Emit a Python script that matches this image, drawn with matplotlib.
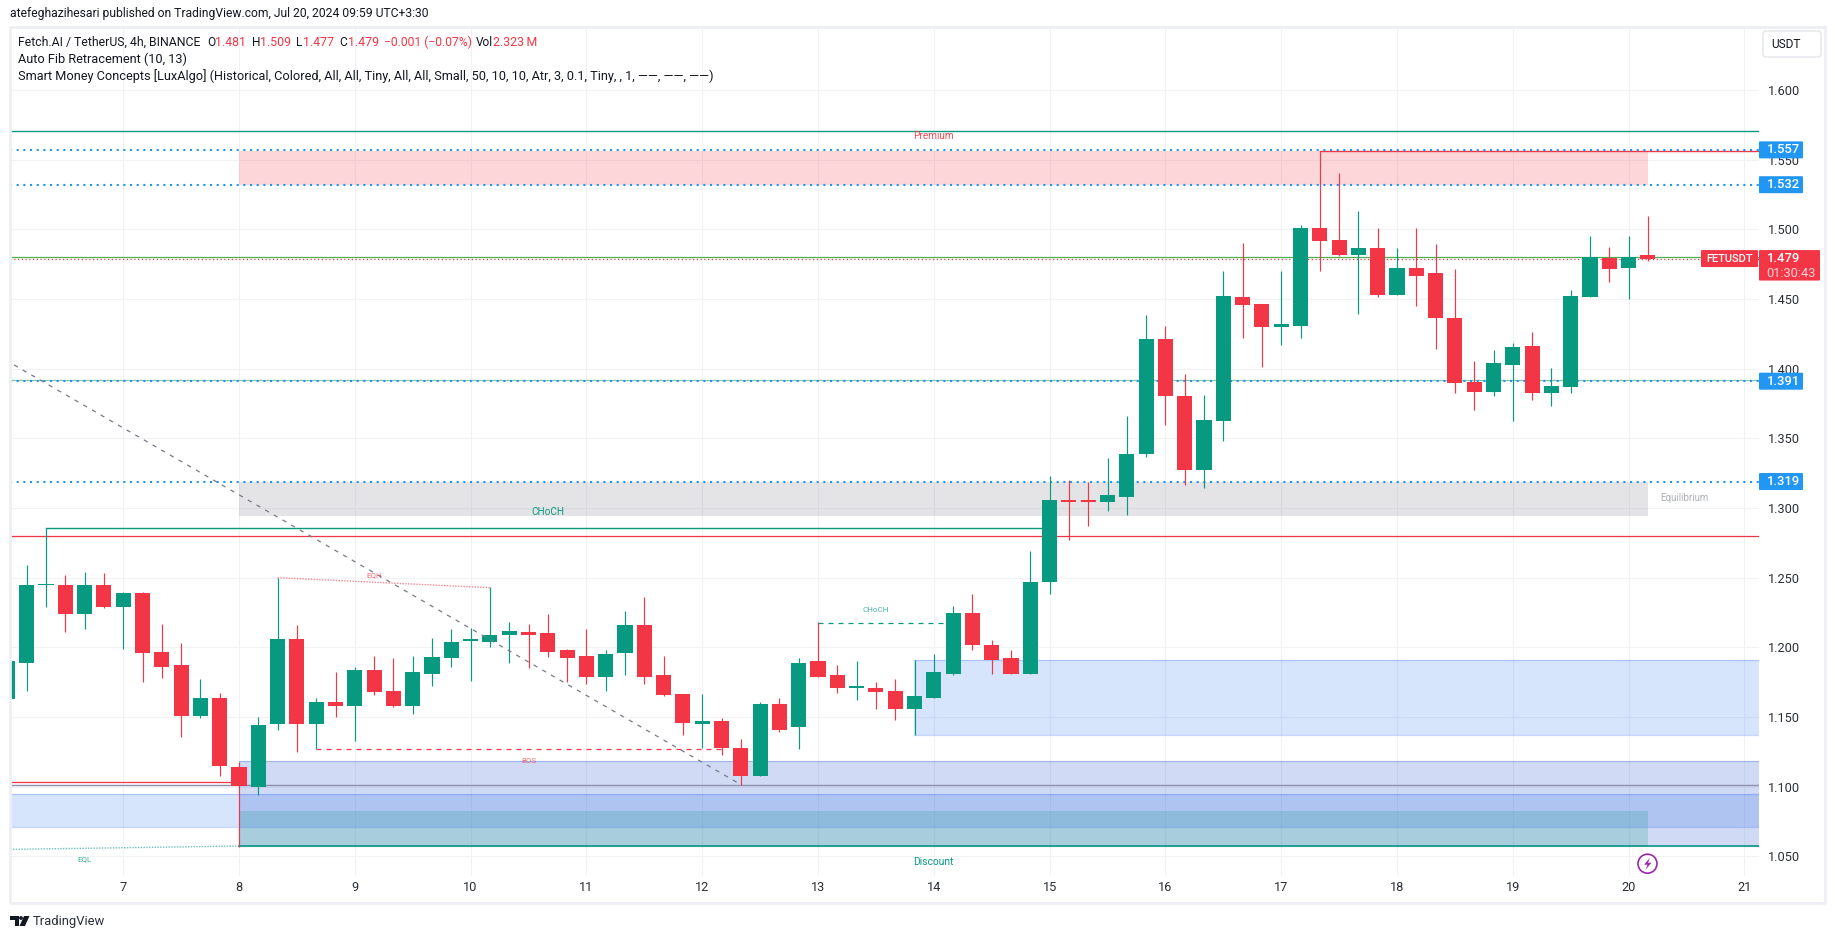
import matplotlib
matplotlib.use("Agg")
import matplotlib.pyplot as plt
from matplotlib.patches import Rectangle, FancyBboxPatch, Polygon, Circle

plt.rcParams['font.family'] = ['Roboto', 'DejaVu Sans']

# ---------- data ----------
first_day = 6.0
candles_per_day = 6
opens = [1.163,1.189,1.2445,1.245,1.224,1.245,1.229,1.239,1.197,1.187,1.1506,1.164,1.114,1.100,1.145,1.206,1.145,1.161,1.158,1.184,1.1685,1.158,1.181,1.192,1.2043,1.204,1.2087,1.211,1.210,1.198,1.194,1.179,
         1.196,1.216,1.180,1.1665,1.1452,1.147,1.128,1.108,1.159,1.143,1.190,1.180,1.1708,1.171,1.1685,1.1556,1.1635,1.181,1.225,1.202,1.192,1.181,1.2467,1.306,1.306,1.304,1.308,1.339,1.4214,1.3805,1.3274,1.3626,1.4515,1.4465,1.430,1.4307,1.501,1.4923,1.4816,1.4866,1.453,1.472,1.4687,1.4364,1.3905,1.3834,1.4027,1.4164,1.3826,1.387,1.4515,1.4794,1.472,1.4816]
highs = [1.190,1.259,1.286,1.252,1.254,1.253,1.240,1.240,1.217,1.203,1.177,1.167,1.118,1.150,1.250,1.216,1.1635,1.182,1.186,1.194,1.192,1.194,1.207,1.213,1.214,1.243,1.218,1.217,1.224,1.199,1.213,1.198,
         1.226,1.236,1.194,1.1665,1.1665,1.149,1.134,1.161,1.164,1.192,1.218,1.187,1.190,1.175,1.177,1.191,1.195,1.230,1.238,1.205,1.198,1.269,1.3227,1.320,1.319,1.336,1.366,1.4386,1.4307,1.396,1.381,1.470,1.490,1.4465,1.470,1.503,1.5564,1.5404,1.513,1.501,1.4866,1.501,1.4895,1.4716,1.4056,1.4135,1.4185,1.4264,1.4006,1.4565,1.495,1.487,1.495,1.5096]
lows = [1.163,1.169,1.229,1.211,1.213,1.228,1.199,1.175,1.178,1.1355,1.149,1.1076,1.057,1.094,1.141,1.125,1.127,1.150,1.133,1.166,1.157,1.152,1.172,1.186,1.176,1.200,1.189,1.185,1.193,1.175,1.174,1.169,
        1.180,1.1735,1.165,1.137,1.128,1.123,1.101,1.108,1.139,1.127,1.179,1.167,1.162,1.156,1.148,1.137,1.1635,1.180,1.198,1.181,1.181,1.181,1.238,1.277,1.287,1.298,1.295,1.3368,1.3597,1.3167,1.3145,1.348,1.422,1.4013,1.417,1.422,1.470,1.481,1.439,1.4515,1.453,1.445,1.414,1.3826,1.3705,1.3805,1.3626,1.3776,1.3733,1.3826,1.4515,1.462,1.450,1.477]
closes = [1.190,1.245,1.2458,1.224,1.245,1.229,1.239,1.196,1.186,1.1506,1.164,1.1147,1.1004,1.144,1.2058,1.145,1.161,1.158,1.184,1.168,1.158,1.182,1.193,1.204,1.2057,1.209,1.212,1.2087,1.197,1.192,1.1785,1.195,
          1.216,1.179,1.1656,1.146,1.1468,1.128,1.108,1.159,1.141,1.189,1.179,1.171,1.1722,1.168,1.1556,1.165,1.182,1.225,1.2015,1.191,1.181,1.247,1.306,1.304,1.304,1.309,1.339,1.4214,1.3805,1.3274,1.3633,1.452,1.4457,1.430,1.432,1.501,1.4916,1.4816,1.4866,1.453,1.472,1.4665,1.4364,1.3898,1.3834,1.404,1.4156,1.3826,1.3877,1.452,1.480,1.4716,1.480,1.4787]

price_ticks = [1.05,1.10,1.15,1.20,1.25,1.30,1.35,1.40,1.45,1.50,1.55,1.60]
day_ticks = [7,8,9,10,11,12,13,14,15,16,17,18,19,20,21]
fib_levels = [1.557,1.532,1.391,1.319]
last_price = 1.479

zone_d0 = [6.0, 1.0708, 1.0951]      # light blue, left edge to right edge
zone_ob = [8.0, 1.0574, 1.1183]      # periwinkle
zone_c = [13.833, 1.1374, 1.1912]    # light blue
zone_premium = [8.0, 20.167, 1.5318, 1.5564]
zone_equil = [8.0, 20.167, 1.2942, 1.319]
zone_discount = [8.0, 20.167, 1.0574, 1.0825]

top_line = 1.5702
red_line = 1.2801
bottom_line = 1.0574
old_low_red = 1.1037
old_low_grey = 1.1009
swing_high = 1.5559
fib_green_a = 1.4804
fib_green_b = 1.3915
choch_big = [6.333, 15.0, 1.2858]
choch_small = [13.0, 14.1, 1.2177]
bos_line = [8.667, 12.167, 1.1267]
eqh_x = [8.333, 10.167]; eqh_y = [1.25, 1.2428]
eql_x = [6.0, 8.0]; eql_y = [1.055, 1.0574]
trend_x = [6.057, 12.33]; trend_y = [1.4027, 1.1017]

# ---------- layout ----------
W, H = 1835, 939
L, R, T, B = 10, 1759, 28, 876
UP, DOWN, BLUE = '#089981', '#F23645', '#2196F3'
TXT = '#131722'

fig = plt.figure(figsize=(W/100, H/100), dpi=100, facecolor='white')
ax = fig.add_axes([L/W, 1-B/H, (R-L)/W, (B-T)/H])
ax.set_xlim(8+(L-239)/115.8, 8+(R-239)/115.8)
ax.set_ylim(1.5-(B-229.3)/1393.5, 1.5-(T-229.3)/1393.5)
for s in ax.spines.values():
    s.set_visible(False)

ax.set_yticks(price_ticks, [f'{p:.3f}' for p in price_ticks])
ax.set_xticks(day_ticks, [str(d) for d in day_ticks])
ax.yaxis.tick_right()
ax.tick_params(axis='y', length=0, pad=6.5, labelsize=9.2, labelcolor='#2A2E39')
ax.tick_params(axis='x', length=0, pad=3.5, labelsize=9.2, labelcolor='#2A2E39')
ax.grid(True, color='#F1F2F4', lw=0.8, zorder=0)
ax.set_axisbelow(True)

xmin, xmax = ax.get_xlim()

def zone(x0, x1, y0, y1, rgb, alpha, edge=None):
    ax.add_patch(Rectangle((x0, y0), x1-x0, y1-y0, facecolor=rgb, alpha=alpha, lw=0, zorder=1))
    if edge:
        ax.plot([x0, x1], [y1, y1], color=edge, lw=0.9, alpha=0.25, zorder=1.1)
        ax.plot([x0, x1], [y0, y0], color=edge, lw=0.9, alpha=0.25, zorder=1.1)

zone(xmin, xmax, zone_d0[1], zone_d0[2], '#2771F4', 0.19, '#2962FF')
zone(zone_ob[0], xmax, zone_ob[1], zone_ob[2], '#1848CC', 0.20, '#1848CC')
zone(zone_c[0], xmax, zone_c[1], zone_c[2], '#2771F4', 0.19, '#2962FF')
zone(zone_premium[0], zone_premium[1], zone_premium[2], zone_premium[3], DOWN, 0.20)
zone(zone_equil[0], zone_equil[1], zone_equil[2], zone_equil[3], '#787B86', 0.20)
zone(zone_discount[0], zone_discount[1], zone_discount[2], zone_discount[3], UP, 0.20)

# structure lines
ax.plot([xmin, xmax], [top_line]*2, color=UP, lw=1.0, zorder=2)
ax.plot([xmin, xmax], [red_line]*2, color=DOWN, lw=0.9, zorder=2)
ax.plot([zone_ob[0], xmax], [bottom_line]*2, color=UP, lw=1.2, zorder=2)
ax.plot([xmin, zone_ob[0]], [old_low_red]*2, color=DOWN, lw=0.9, zorder=2)
ax.plot([xmin, xmax], [old_low_grey]*2, color='#8C90AE', lw=1.0, zorder=2)
ax.plot([17.333, xmax], [swing_high]*2, color=DOWN, lw=1.0, zorder=2)
ax.plot(choch_big[:2], [choch_big[2]]*2, color=UP, lw=1.0, zorder=2)
ax.plot([xmin, xmax], [fib_green_a]*2, color='#4CAF50', lw=0.9, zorder=2)
ax.plot([xmin, xmax], [fib_green_b]*2, color='#8BC7A0', lw=0.9, zorder=2)
ax.plot([xmin, xmax], [last_price]*2, color=DOWN, lw=0.9, ls=(0, (1, 2)), zorder=2)
for lv in fib_levels:
    ax.plot([xmin, xmax], [lv]*2, color=BLUE, lw=1.5, ls=(0, (1, 2.2)), zorder=2.2)
ax.plot(choch_small[:2], [choch_small[2]]*2, color=UP, lw=0.9, ls=(0, (4, 4)), zorder=2)
ax.plot(bos_line[:2], [bos_line[2]]*2, color=DOWN, lw=0.9, ls=(0, (4, 4)), zorder=2)
ax.plot(eqh_x, eqh_y, color=DOWN, lw=1.0, ls=(0, (1, 1)), alpha=0.6, zorder=2)
ax.plot(eql_x, eql_y, color=UP, lw=1.0, ls=(0, (1, 1)), alpha=0.6, zorder=2)
ax.plot(trend_x, trend_y, color='#787B86', lw=0.9, ls=(0, (3.5, 4.5)), zorder=4)

# candles
for i, (o, h, l, c) in enumerate(zip(opens, highs, lows, closes)):
    x = first_day + i/candles_per_day
    col = UP if c >= o else DOWN
    ax.vlines(x, l, h, color=col, lw=0.85, zorder=3)
    ax.bar(x, abs(c-o), bottom=min(o, c), width=0.13, color=col, lw=0, zorder=3)

# chart labels
def lab(x, y, s, col, size, alpha=1.0):
    ax.text(x, y, s, color=col, fontsize=size, alpha=alpha, ha='center', va='center', zorder=5)
lab(10.67, 1.297, 'CHoCH', UP, 7.2)
lab(13.494, 1.227, 'CHoCH', UP, 5.8, 0.75)
lab(10.5, 1.1188, 'BOS', DOWN, 5.8, 0.7)
lab(9.166, 1.252, 'EQH', DOWN, 5.8, 0.7)
lab(6.67, 1.0483, 'EQL', UP, 5.8, 0.8)
lab(14.0, 1.5669, 'Premium', DOWN, 7.2, 0.9)
lab(20.48, 1.3069, 'Equilibrium', '#787B86', 7.0, 0.6)
lab(14.0, 1.0461, 'Discount', UP, 7.4)

# ---------- chrome, in pixel coordinates ----------
fig.canvas.draw()
def py(p):
    return H - ax.transData.transform((7, p))[1]

ch = fig.add_axes([0, 0, 1, 1], zorder=10)
ch.set_xlim(0, W); ch.set_ylim(H, 0); ch.axis('off'); ch.patch.set_alpha(0)

for seg in ([(10, 26.5), (1825, 26.5)], [(10, 903), (1825, 903)], [(10, 26), (10, 903)], [(1825, 26), (1825, 903)]):
    ch.plot(*zip(*seg), color='#EDEFF4', lw=2.0, solid_capstyle='butt')

def box(x0, x1, y0, y1, col):
    ch.add_patch(FancyBboxPatch((x0+1, y0+1), x1-x0-2, y1-y0-2, boxstyle='round,pad=1,rounding_size=1',
                                facecolor=col, edgecolor='none'))

for lv in fib_levels:
    y = py(lv)
    box(1759, 1803, y-8.5, y+8.5, BLUE)
    ch.text(1783, y, f'{lv:.3f}', color='white', fontsize=9.4, fontweight='medium', ha='center', va='center')

y = py(last_price)
box(1701, 1758, y-8.5, y+8.5, DOWN)
ch.text(1729.5, y, 'FETUSDT', color='white', fontsize=8.0, fontweight='medium', ha='center', va='center')
box(1759, 1820, y-8.5, y+22, DOWN)
ch.text(1783, y, f'{last_price:.3f}', color='white', fontsize=9.4, fontweight='medium', ha='center', va='center')
ch.text(1791, y+14.5, '01:30:43', color='#FBD5D8', fontsize=9.2, ha='center', va='center')

ch.add_patch(FancyBboxPatch((1763, 31), 58, 26, boxstyle='round,pad=0,rounding_size=3.5',
                            facecolor='white', edgecolor='#E3E5EC', lw=1.0))
ch.text(1785.7, 44, 'USDT', color=TXT, fontsize=8.6, ha='center', va='center')

ch.text(10, 14, 'atefeghazihesari published on TradingView.com, Jul 20, 2024 09:59 UTC+3:30',
        color=TXT, fontsize=8.7, ha='left', va='center')

LEG = 9.2
ch.text(18, 42, 'Fetch.AI / TetherUS, 4h, BINANCE', color=TXT, fontsize=8.8, va='center')
for x, s, c, fs in [(207.6, 'O', TXT, 8.6), (215, '1.481', DOWN, 8.9), (252, 'H', TXT, 8.6), (260, '1.509', DOWN, 8.9),
                    (296, 'L', TXT, 8.6), (303, '1.477', DOWN, 8.9), (339, 'C', TXT, 8.6), (347.7, '1.479', DOWN, 8.9),
                    (384, '\u22120.001 (\u22120.07%)', DOWN, 8.7), (475.7, 'Vol', TXT, 8.6), (492.7, '2.323\u2009M', DOWN, 8.9)]:
    ch.text(x, 42, s, color=c, fontsize=fs, va='center')
ch.text(18, 59, 'Auto Fib Retracement (10, 13)', color=TXT, fontsize=LEG, va='center')
ch.text(18, 76, 'Smart Money Concepts [LuxAlgo] (Historical, Colored, All, All, Tiny, All, All, Small, 50, 10, 10, Atr, 3, 0.1, Tiny, , 1, \u2014\u2014, \u2014\u2014, \u2014\u2014)',
        color=TXT, fontsize=LEG, va='center')

# lightning badge
ch.add_patch(Circle((1647.5, 863.7), 9.5, facecolor='white', edgecolor='#9C27B0', lw=1.2))
ch.add_patch(Polygon([(1650, 857.7), (1644, 864.7), (1647.5, 864.7), (1645.5, 869.7), (1651.5, 862.7), (1648, 862.7)],
                     facecolor='#9C27B0', edgecolor='none'))

# TradingView logo
LOGO = '#131722'
ch.add_patch(Polygon([(10, 916), (19, 916), (19, 926), (14.5, 926), (14.5, 920), (10, 920)], facecolor=LOGO, edgecolor='none'))
ch.add_patch(Circle((21, 918), 1.9, facecolor=LOGO, edgecolor='none'))
ch.add_patch(Polygon([(24, 916), (29.5, 916), (25, 926), (19.5, 926)], facecolor=LOGO, edgecolor='none'))
ch.text(33, 921.5, 'TradingView', color='#2A2E39', fontsize=9.4, va='center')

fig.savefig('out.png', dpi=100, facecolor='white')
